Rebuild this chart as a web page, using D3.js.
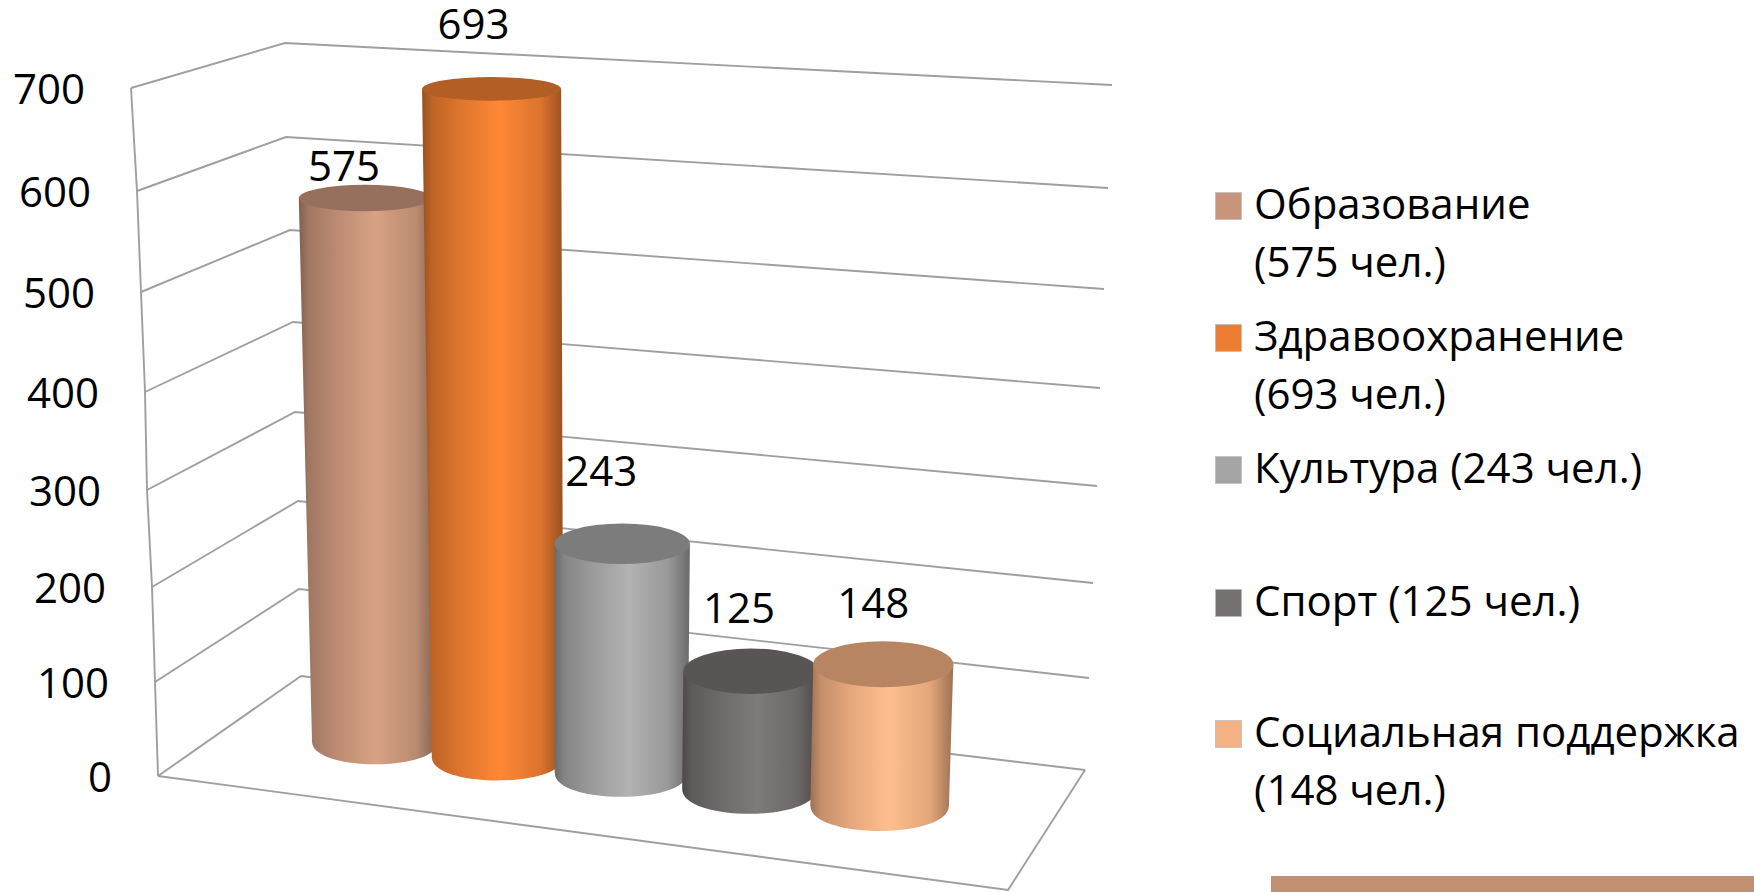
<!DOCTYPE html>
<html lang="ru">
<head>
<meta charset="utf-8">
<title>Chart</title>
<script src="https://cdn.jsdelivr.net/npm/d3@7/dist/d3.min.js"></script>
<style>
html,body{margin:0;padding:0;background:#fff;overflow:hidden}
svg{display:block}
text{font-family:"Open Sans",sans-serif;fill:#000}
</style>
</head>
<body>
<svg id="chart" width="1754" height="892"></svg>
<script>
// ---- data ----
const categories = ["Образование", "Здравоохранение", "Культура", "Спорт", "Социальная поддержка"];
const values = [575, 693, 243, 125, 148];
const colors = ["#c8957a", "#ed7d31", "#a5a5a5", "#767171", "#f4b183"];
const tickValues = [0, 100, 200, 300, 400, 500, 600, 700];
const legendLines = [
  ["Образование", "(575 чел.)"],
  ["Здравоохранение", "(693 чел.)"],
  ["Культура (243 чел.)"],
  ["Спорт (125 чел.)"],
  ["Социальная поддержка", "(148 чел.)"]
];

// ---- perspective frame ----
const frontX = d3.scaleLinear(tickValues, [158,155,152,147,145,141,137,131]);
const frontY = d3.scaleLinear(tickValues, [776,682,587,490,392,292,191,88]);
const backX  = d3.scaleLinear(tickValues, [301,299,298,295,293,290,286,285]);
const backY  = d3.scaleLinear(tickValues, [676,589,501,412,322,230,137,43]);
const rightX = d3.scaleLinear(tickValues, [1085,1089,1093,1097,1100,1104,1108,1112]);
const rightY = d3.scaleLinear(tickValues, [770,678,583,486,388,289,188,85]);
const frac = v => (frontY(0) - frontY(v)) / (frontY(0) - frontY(700));
const cornerX = d3.scaleLinear([0,1], [1008,1032]);
const cornerY = d3.scaleLinear([0,1], [890,155]);

const lerp = (a,b,t) => a + (b-a)*t;
function project(t, d, v){
  const fx = lerp(frontX(v), cornerX(frac(v)), t), fy = lerp(frontY(v), cornerY(frac(v)), t);
  const bx = lerp(backX(v), rightX(v), t),        by = lerp(backY(v), rightY(v), t);
  return [lerp(fx,bx,d), lerp(fy,by,d)];
}

// position and half width of each cylinder along the width of the floor
const alongFloor = d3.scaleLinear([0,1,2,3,4], [.1743,.3244,.476,.633,.793]);
const halfWidth = d3.scaleLinear([0,1,2,3,4], [.0775,.0807,.0815,.0822,.085]);
const depth = .525, halfD = .22;

function rim(i, v){
  const t = alongFloor(i), halfW = halfWidth(i);
  const [cx, cy] = project(t, depth, v);
  const rx = (project(t+halfW, depth, v)[0] - project(t-halfW, depth, v)[0]) / 2;
  const ry = (project(t, depth-halfD, v)[1] - project(t, depth+halfD, v)[1]) / 2;
  return {cx, cy, rx, ry};
}

const svg = d3.select("#chart");
const defs = svg.append("defs");
const gridColor = "#9f9f9f";

// ---- walls and floor ----
const line = d3.line();
const gridG = svg.append("g").attr("fill","none").attr("stroke",gridColor).attr("stroke-width",1.9);
gridG.selectAll("path.grid").data(tickValues).join("path").attr("class","grid")
  .attr("d", v => line([[frontX(v),frontY(v)],[backX(v),backY(v)],[rightX(v),rightY(v)]]));
gridG.append("path").attr("d", line(tickValues.map(v => [frontX(v),frontY(v)])));
gridG.append("path").attr("d", line([[frontX(0),frontY(0)],[cornerX(0),cornerY(0)],[rightX(0),rightY(0)]]));

// ---- tick labels ----
const fontSize = 42;
svg.append("g").selectAll("text").data(tickValues).join("text")
  .attr("x", v => frontX(v) - 46)
  .attr("y", v => frontY(v) + 1)
  .attr("dy", ".36em")
  .attr("text-anchor","end")
  .attr("font-size", fontSize)
  .text(d => d);

// ---- cylinders ----
const stops = [[0,.64],[.07,.8],[.28,.94],[.55,1.08],[.84,.93],[1,.64]];
const topShade = .75;
function shade(c,k){ const r=d3.rgb(c); return d3.rgb(Math.min(255,r.r*k),Math.min(255,r.g*k),Math.min(255,r.b*k)).formatHex(); }

colors.forEach((c,i) => {
  const g = defs.append("linearGradient").attr("id","grad"+i).attr("x1",0).attr("x2",1).attr("y1",0).attr("y2",0);
  stops.forEach(s => g.append("stop").attr("offset",s[0]).attr("stop-color",shade(c,s[1])));
});

const cyl = svg.append("g").selectAll("g").data(values).join("g");
cyl.append("path")
  .attr("fill",(d,i)=>`url(#grad${i})`)
  .attr("d",(d,i)=>{
    const a = rim(i,d), b = rim(i,0);
    const p = d3.path();
    p.moveTo(a.cx-a.rx,a.cy);
    p.lineTo(b.cx-b.rx,b.cy);
    p.bezierCurveTo(b.cx-b.rx,b.cy+b.ry*1.333,b.cx+b.rx,b.cy+b.ry*1.333,b.cx+b.rx,b.cy);
    p.lineTo(a.cx+a.rx,a.cy);
    p.closePath();
    return p.toString();
  });
cyl.append("ellipse")
  .attr("cx",(d,i)=>rim(i,d).cx).attr("cy",(d,i)=>rim(i,d).cy)
  .attr("rx",(d,i)=>rim(i,d).rx).attr("ry",(d,i)=>rim(i,d).ry)
  .attr("fill",(d,i)=>shade(colors[i],topShade));

// ---- value labels (hand placed in the original) ----
const labelShift = [[-21,-32],[-18,-65],[-21,-73],[-12,-63],[-10,-61]];
svg.append("g").selectAll("text").data(values).join("text")
  .attr("x",(d,i)=>rim(i,d).cx+labelShift[i][0])
  .attr("y",(d,i)=>rim(i,d).cy+labelShift[i][1])
  .attr("dy",".36em")
  .attr("text-anchor","middle")
  .attr("font-size",fontSize)
  .text(d=>d);

// ---- legend ----
const legendBaseline = [219,351,483,616,747];
const legendLead = 58;
const legend = svg.append("g").selectAll("g").data(categories).join("g");
legend.append("rect")
  .attr("x",1215.5).attr("y",(d,i)=>legendBaseline[i]-26.5)
  .attr("width",26).attr("height",27)
  .attr("fill",(d,i)=>colors[i])
  .attr("stroke","#bdbdbd").attr("stroke-width",.7);
legend.each(function(d,i){
  d3.select(this).selectAll("text").data(legendLines[i]).join("text")
    .attr("x",1254)
    .attr("y",(l,j)=>legendBaseline[i]+j*legendLead)
    .attr("font-size",fontSize)
    .text(l=>l);
});

// ---- strip at the bottom edge ----
svg.append("rect").attr("x",1271).attr("y",876).attr("width",483).attr("height",16).attr("fill","#c19072");
</script>
</body>
</html>
